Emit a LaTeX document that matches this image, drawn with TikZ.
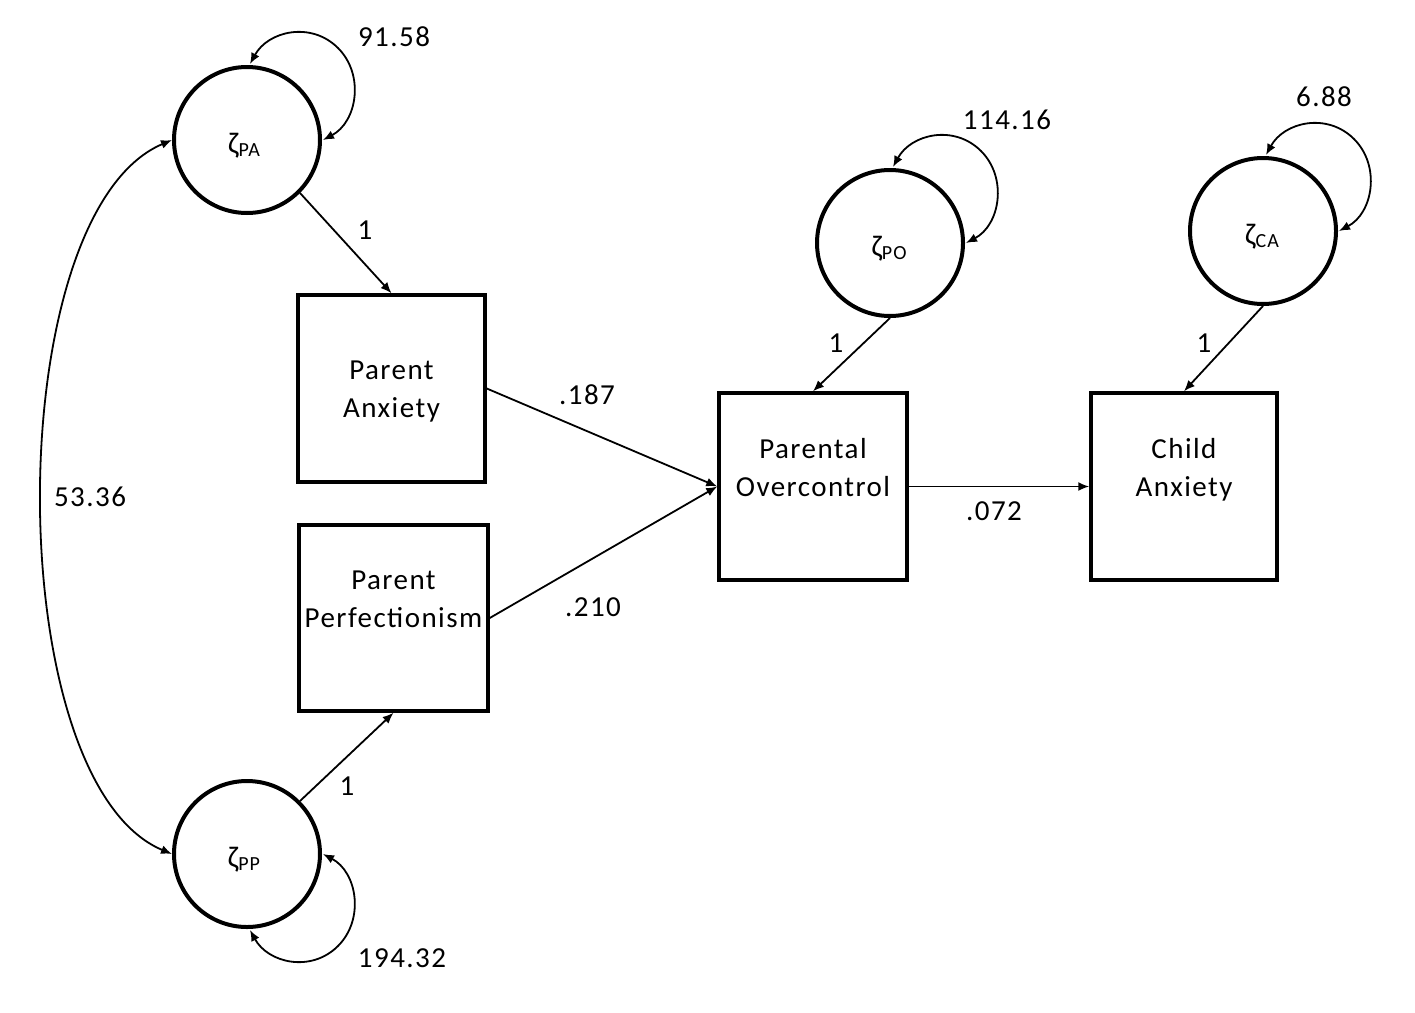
\documentclass[tikz,border=0pt]{standalone}
\usepackage{fontspec}
\setmainfont{Carlito}[LetterSpace=5]
\usetikzlibrary{arrows.meta,calc}
\newcommand{\ls}{\rule[-9.5pt]{0pt}{38pt}}
\newcommand{\zsub}[1]{ζ\raisebox{-3pt}{\fontsize{20}{20}\selectfont #1}}
\begin{document}
\begin{tikzpicture}[x=1pt,y=1pt,
  lat/.style={circle,draw,line width=4pt,minimum size=146pt,inner sep=0pt},
  obs/.style={rectangle,draw,line width=3.5pt,minimum width=187pt,minimum height=187pt,inner sep=0pt,align=center,font=\fontsize{29}{38}\selectfont},
  conn/.style={line width=1.8pt,-{Latex[length=11pt,width=9pt]}},
  biconn/.style={line width=1.8pt,{Latex[length=11pt,width=9pt]}-{Latex[length=11pt,width=9pt]}},
  num/.style={font=\fontsize{29}{34}\selectfont,inner sep=0pt},
  zl/.style={font=\fontsize{30}{32}\selectfont,inner sep=0pt}
]
\useasboundingbox[fill=white] (0,0) rectangle (1415,-1012);

% latent (disturbance) circles
\node[lat] (PA) at (247,-140) {};
\node[lat] (PP) at (247,-854) {};
\node[lat] (PO) at (890,-243) {};
\node[lat] (CA) at (1263,-231) {};

\node[zl] (zPA) at ($(PA)+(-3,-6)$) {\zsub{PA}};
\node[zl] (zPP) at ($(PP)+(-3,-6)$) {\zsub{PP}};
\node[zl] (zPO) at ($(PO)+(-1,-6)$) {\zsub{PO}};
\node[zl] (zCA) at ($(CA)+(-1,-6)$) {\zsub{CA}};

% observed boxes
\node[obs,minimum width=187pt,minimum height=187pt] (PAnx) at (391.5,-388.5) {\ls Parent\\\ls Anxiety};
\node[obs,minimum width=189pt,minimum height=186pt] (PPerf) at (393.5,-618) {\ls Parent\\\ls Perfectionism\\\ls};
\node[obs,minimum width=188pt,minimum height=187pt] (POC) at (813,-486.5) {\ls Parental\\\ls Overcontrol\\\ls};
\node[obs,minimum width=186pt,minimum height=187pt] (CAnx) at (1184,-486.5) {\ls Child\\\ls Anxiety\\\ls};

% paths
\draw[conn] (PA.-45) -- (PAnx.north);
\draw[conn] (PP.45) -- (PPerf.south);
\draw[conn] (PO.south) -- (POC.north);
\draw[conn] (CA.south) -- (CAnx.north);
\draw[conn] (PAnx.east) -- (POC.west);
\draw[conn] (PPerf.east) -- (POC.west);
\draw[conn] (POC.east) -- (CAnx.west);

% covariance
\draw[biconn] (PA.west) .. controls (-1,-213) and (-1,-782) .. (PP.west);

% variances (self loops)
\foreach \n/\s in {PA/1,PO/1,CA/1,PP/-1}{
  \draw[biconn] ($(\n)+(3,76*\s)$) .. controls ($(\n)+(21,109*\s)$) and ($(\n)+(64,119*\s)$) .. ($(\n)+(91,92*\s)$)
     .. controls ($(\n)+(118,65*\s)$) and ($(\n)+(110,18*\s)$) .. ($(\n)+(76,0)$);
}

% labels
\node[num] (vPA) at (394,-37) {91.58};
\node[num] (vPO) at (1007,-120) {114.16};
\node[num] (vCA) at (1324,-97) {6.88};
\node[num] (vPP) at (402,-958) {194.32};
\node[num] (cov) at (90,-497) {53.36};
\node[num] (o1) at (365,-230) {1};
\node[num] (o2) at (836,-343) {1};
\node[num] (o3) at (1204,-343) {1};
\node[num] (o4) at (347,-786) {1};
\node[num] (b1) at (587,-395) {.187};
\node[num] (b2) at (593,-607) {.210};
\node[num] (b3) at (994,-511) {.072};
\end{tikzpicture}
\end{document}
